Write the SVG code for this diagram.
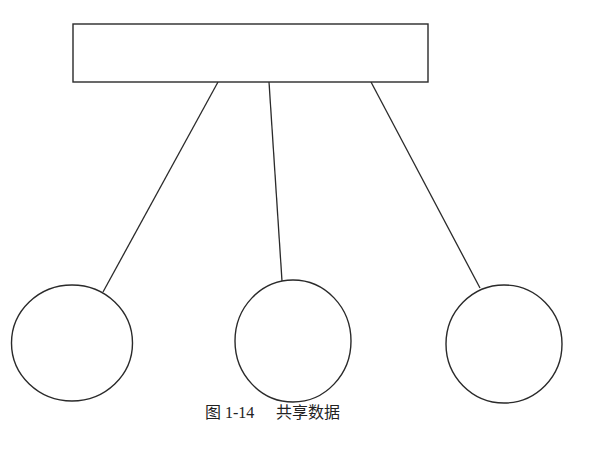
<svg xmlns="http://www.w3.org/2000/svg" width="607" height="455" viewBox="0 0 607 455">
<style>
.s{fill:#fff;stroke:#2a2a2a;stroke-width:1.4}
.c{stroke:#2a2a2a;stroke-width:1.3;fill:none}
.t{font-family:"Liberation Serif","Noto Sans CJK SC",serif;font-size:16px;fill:#222}
</style>
<rect width="607" height="455" fill="#fff"/>
<g id="connectors">
<line class="c" x1="218" y1="82" x2="103" y2="292"/>
<line class="c" x1="269" y1="82" x2="282" y2="281"/>
<line class="c" x1="371" y1="82" x2="480" y2="288"/>
</g>
<g id="shared-data"><rect class="s" x="73" y="24" width="355" height="58"/></g>
<g id="circle-left"><ellipse class="s" cx="72" cy="343" rx="60.5" ry="58"/></g>
<g id="circle-middle"><ellipse class="s" cx="293" cy="341" rx="58" ry="61"/></g>
<g id="circle-right"><ellipse class="s" cx="504" cy="344" rx="58" ry="59"/></g>
<g id="caption"><text class="t" x="205" y="418">图 1-14<tspan x="276">共享数据</tspan></text></g>
</svg>
